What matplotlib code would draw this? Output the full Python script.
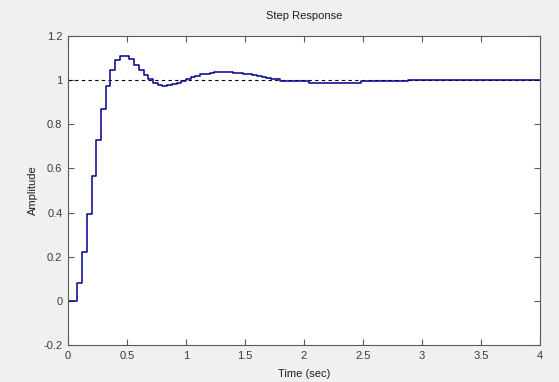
import matplotlib
matplotlib.use("Agg")
import matplotlib.pyplot as plt

# Sampled step response (value held from each time to the next)
time_s = [0.00, 0.04, 0.08, 0.12, 0.16, 0.20, 0.24, 0.28, 0.32, 0.36,
          0.40, 0.44, 0.48, 0.52, 0.56, 0.60, 0.64, 0.68, 0.72, 0.76,
          0.80, 0.84, 0.88, 0.92, 0.96, 1.00, 1.04, 1.08, 1.12, 1.16,
          1.20, 1.24, 1.28, 1.32, 1.36, 1.40, 1.44, 1.48, 1.52, 1.56,
          1.60, 1.64, 1.68, 1.72, 1.80, 1.92, 2.04, 2.48, 2.68, 2.88,
          3.76, 4.00]
amplitude = [0.0, 0.0, 0.08, 0.22, 0.394, 0.566, 0.729, 0.868, 0.975, 1.046,
             1.089, 1.109, 1.110, 1.095, 1.070, 1.045, 1.023, 1.004, 0.987, 0.977,
             0.972, 0.977, 0.982, 0.989, 0.996, 1.005, 1.014, 1.021, 1.026, 1.030,
             1.033, 1.035, 1.036, 1.036, 1.035, 1.033, 1.031, 1.029, 1.026, 1.022,
             1.018, 1.014, 1.010, 1.004, 0.998, 0.995, 0.989, 0.995, 0.998, 1.002,
             1.000, 1.000]
final_value = 1.0

x_ticks = [0, 0.5, 1, 1.5, 2, 2.5, 3, 3.5, 4]
x_tick_labels = ["0", "0.5", "1", "1.5", "2", "2.5", "3", "3.5", "4"]
y_ticks = [-0.2, 0, 0.2, 0.4, 0.6, 0.8, 1, 1.2]
y_tick_labels = ["-0.2", "0", "0.2", "0.4", "0.6", "0.8", "1", "1.2"]

plt.rcParams['font.family'] = ['Liberation Sans', 'DejaVu Sans']

bg = '#f0f0f0'
fig = plt.figure(figsize=(5.59, 3.82), dpi=100, facecolor=bg)
ax = fig.add_axes([68 / 559, 37 / 382, 472 / 559, 309 / 382])
ax.set_facecolor('white')

ax.plot([0, 4], [final_value, final_value], linestyle=(0, (3, 3)),
        color='black', linewidth=0.8)
ax.plot(time_s, amplitude, drawstyle='steps-post', color='#00008f',
        linewidth=1.1)

ax.set_xlim(0, 4)
ax.set_ylim(-0.2, 1.2)
ax.set_xticks(x_ticks)
ax.set_xticklabels(x_tick_labels)
ax.set_yticks(y_ticks)
ax.set_yticklabels(y_tick_labels)

frame = '#5a5a5a'
for s in ax.spines.values():
    s.set_color(frame)
    s.set_linewidth(0.8)
ax.tick_params(direction='in', length=4, width=0.8, color=frame,
               top=True, right=True, labelsize=8, labelcolor='#3a3a3a',
               pad=4)

ax.set_title("Step Response", fontsize=8, color='#202020', pad=12)
ax.set_xlabel("Time (sec)", fontsize=8, color='#202020', labelpad=6)
ax.set_ylabel("Amplitude", fontsize=8, color='#202020', labelpad=4)

fig.savefig("out.png", dpi=100, facecolor=bg)
